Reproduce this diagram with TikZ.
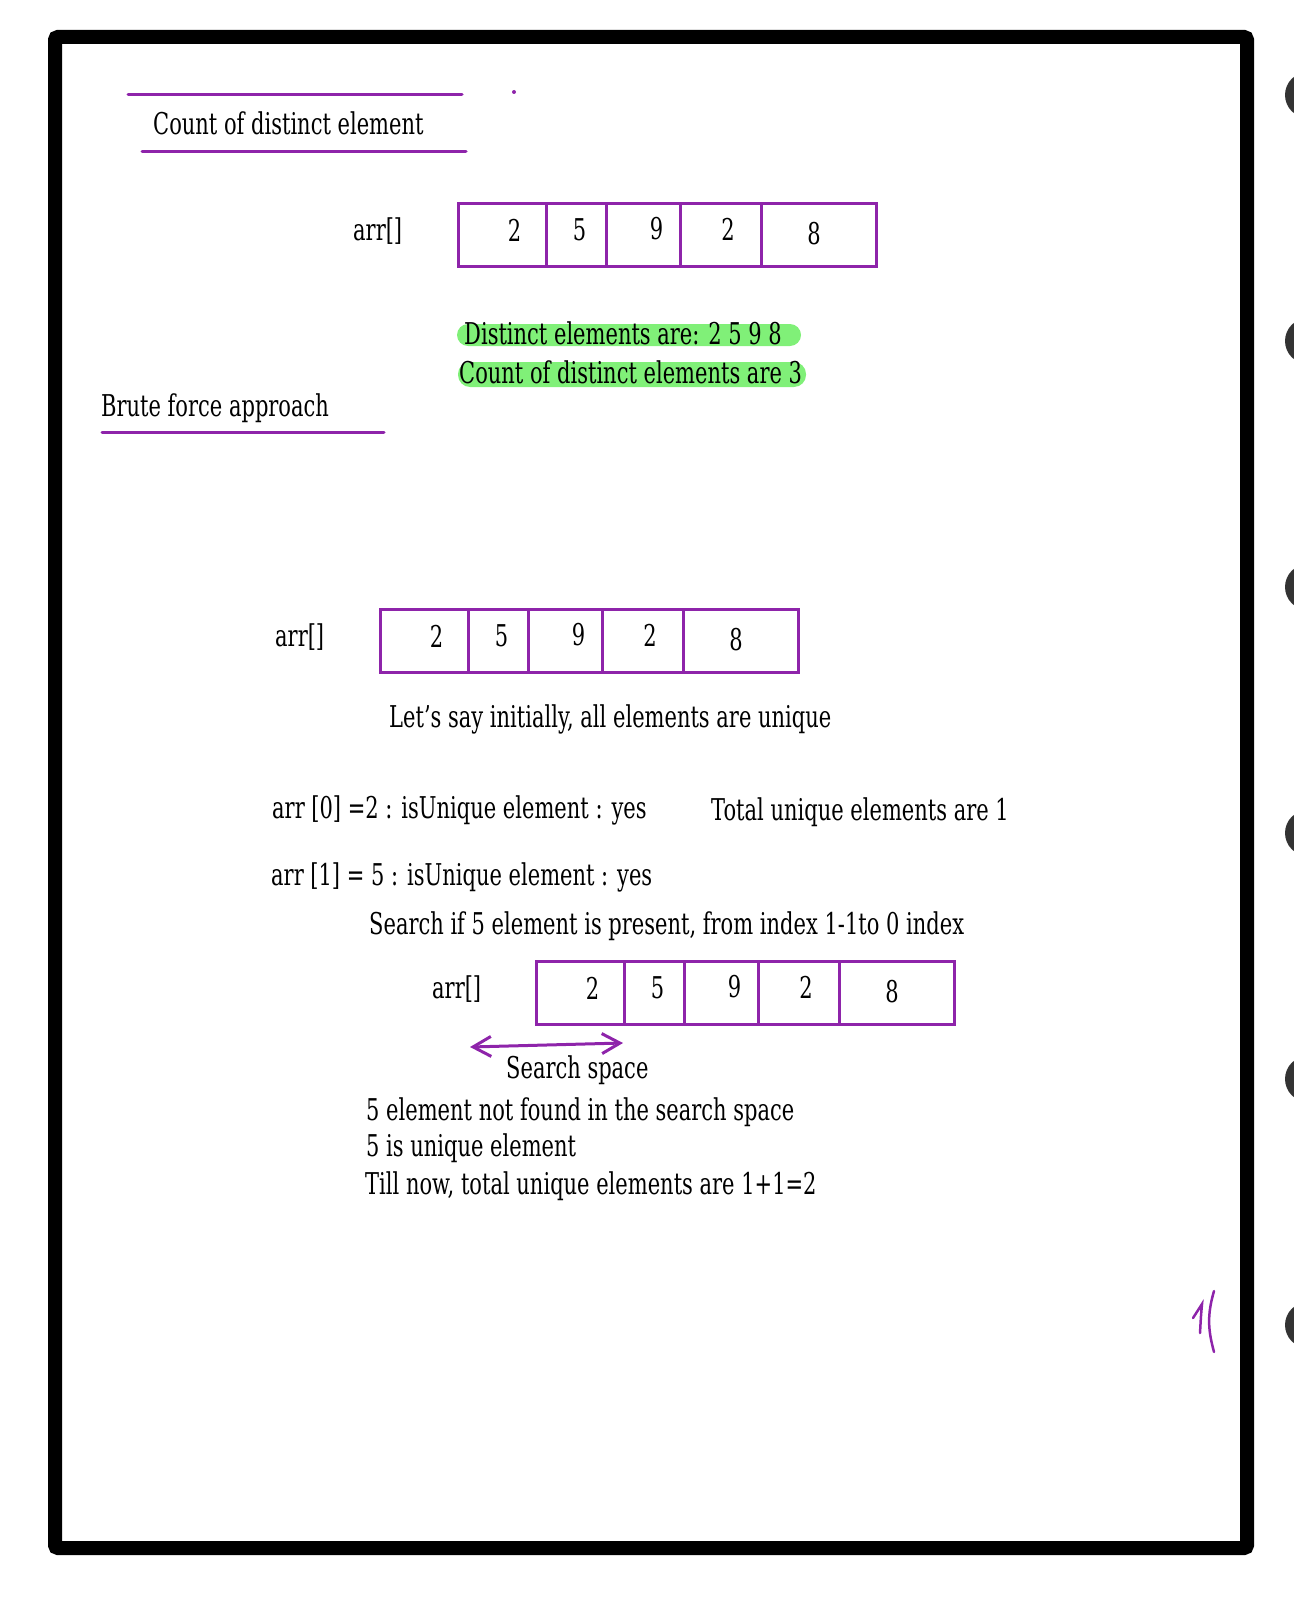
\documentclass[tikz,border=0pt]{standalone}
\usepackage{fontspec}
\setmainfont{DejaVu Serif}[FakeStretch=0.7]
\usepackage{xcolor}
\usetikzlibrary{arrows.meta}

\definecolor{penpurple}{RGB}{142,36,170}
\definecolor{marker}{RGB}{128,240,120}
\definecolor{dotgray}{RGB}{51,51,51}

\tikzset{
  txt/.style={anchor=mid west, inner sep=0pt, yshift=-7pt, font=\fontsize{30}{36}\selectfont},
  num/.style={inner sep=0pt, font=\fontsize{30}{36}\selectfont},
  cell/.style={draw=penpurple, line width=3pt, minimum height=63pt, inner sep=0pt},
  pen/.style={draw=penpurple, line width=3pt, line cap=round}
}

\begin{document}
\begin{tikzpicture}[x=1pt, y=-1pt]
\useasboundingbox (0,0) rectangle (1293,1597);

% page frame and the binder holes
\draw[line width=14pt, rounded corners=3pt] (55,37) rectangle (1247,1548);
\foreach \hy in {95,341,587,833,1079,1325}
  \fill[dotgray] (1308,\hy) circle (23);

% heading
\draw[pen] (128,95) -- (462,95);
\node[txt] (title) at (153,125) {Count of distinct element};
\draw[pen] (142,152) -- (466,152);
\fill[penpurple] (514,92) circle (2);

% the three arrays
\foreach \arr/\ax/\ay/\lx in {top/457/235/353, bf/379/641/275, srch/535/993/432}{
  \begin{scope}[shift={(\ax,\ay)}]
    \foreach \i/\l/\w/\n/\dx/\dy in {1/0/88/2/12/-5, 2/88/60/5/3/-5, 3/148/74/9/13/-6, 4/222/81/2/7/-6, 5/303/115/8/-5/-1}{
      \node[cell, minimum width=\w, anchor=west] (\arr-\i) at (\l,0) {};
      \node[num] (\arr-n\i) at ([shift={(\dx,\dy)}]\arr-\i.center) {\n};
    }
  \end{scope}
  \node[txt] (\arr-name) at (\lx,\ay-4) {arr[]};
}

% highlighted result
\fill[marker, rounded corners=11pt] (457,324) rectangle (801,346);
\fill[marker, rounded corners=12pt] (458,362) rectangle (806,387);
\node[txt] (distinct) at (464,335) {Distinct elements are: 2 5 9 8};
\node[txt] (count) at (459,374) {Count of distinct elements are 3};

% brute force
\node[txt] (brute) at (101,407) {Brute force approach};
\draw[pen] (102,432) -- (384,432);

\node[txt] (assume) at (389,718) {Let’s say initially, all elements are unique};
\node[txt] (step0) at (272,809) {arr [0] =2 : isUnique element : yes};
\node[txt] (total1) at (711,811) {Total unique elements are 1};
\node[txt] (step1) at (271,876) {arr [1] = 5 : isUnique element : yes};
\node[txt] (search) at (369,925) {Search if 5 element is present, from index 1-1to 0 index};

% search space
\coordinate (ss-left) at (470,1047);
\coordinate (ss-right) at (623,1043);
\draw[pen, {Straight Barb[length=18pt,width=20pt]}-{Straight Barb[length=18pt,width=20pt]}] (ss-left) -- (ss-right);
\node[txt] (space) at (506,1069) {Search space};

\node[txt] (notfound) at (366,1111) {5 element not found in the search space};
\node[txt] (unique) at (366,1147) {5 is unique element};
\node[txt] (tillnow) at (365,1185) {Till now, total unique elements are 1+1=2};

% scribble near the right edge
\draw[pen, line width=2.5pt] (1214,1291) .. controls (1207,1315) and (1208,1330) .. (1214,1352);
\draw[pen, line width=2.5pt] (1193,1318) -- (1202,1304) .. controls (1201,1315) .. (1200,1333);
\end{tikzpicture}
\end{document}
